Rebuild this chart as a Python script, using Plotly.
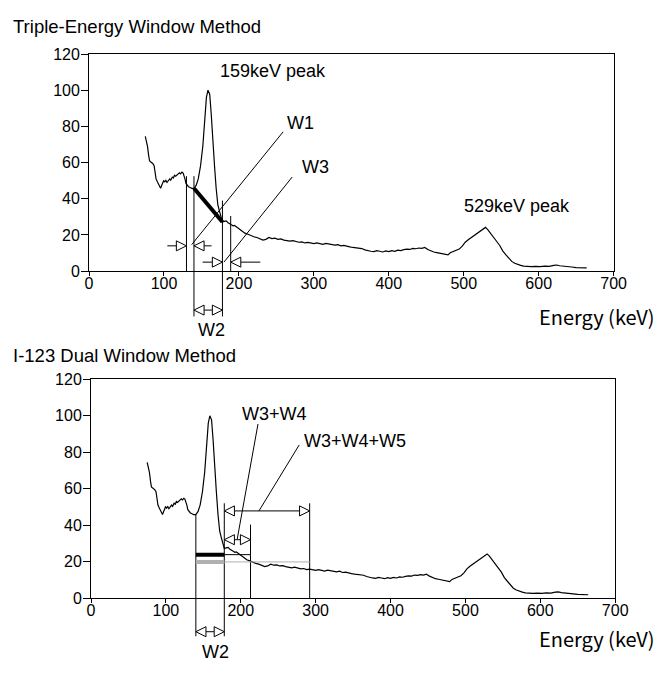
import numpy as np
import plotly.graph_objects as go

# ---------------- data ----------------
energy_kev = [75, 76.5, 78, 79.5, 80.7, 82, 83.8, 85, 86.8, 88, 89.4, 91, 92.4, 94, 95.5, 97, 98,
              99.5, 101, 102.5, 104, 106, 107.6, 109, 111, 112.5, 114, 115.5, 117, 119, 120.6,
              122, 124, 125.5, 127, 128, 129.3, 131, 132.7, 135, 137, 140, 143, 145.7, 148.8,
              151.8, 154.4, 156.6, 158.7, 161, 163, 164.8, 167.4, 169.6, 171.8, 174, 176, 178,
              180.5, 183, 185.5, 187.8, 190, 192, 194, 196.5, 198.5,
              200, 204, 208, 212, 216, 220, 224, 228, 232, 236, 240, 244, 248, 252, 256, 260,
              264, 268, 272, 276, 280, 284, 288, 292, 296, 300, 304, 308, 312, 316, 320, 324,
              328, 332, 336, 340, 344, 348, 352, 356, 360, 364, 368, 372, 376, 380, 384, 388,
              392, 396, 400, 404, 408, 412, 416, 420, 424, 428, 432, 436, 440, 444, 448, 452,
              456, 460, 464, 468, 472, 476, 479, 482, 486, 490, 494, 498, 502, 506, 510, 514,
              518, 522, 526, 529, 532, 536, 540, 544, 548, 552, 556, 560, 564, 568, 572, 576,
              580, 584, 590, 596, 602, 608, 614, 620, 624, 628, 632, 638, 644, 650, 656, 664]
counts = [74.5, 72, 69, 64, 61, 60.5, 60, 59.5, 58.3, 55, 51, 49.5, 48, 46.5, 45.8, 47.5, 48.5,
          50, 49.4, 50.2, 49, 50.5, 51, 50.3, 52, 51.5, 53, 52.5, 53, 53.8, 54.4,
          53.8, 54.7, 54.2, 52.6, 51, 48.5, 47.5, 46.7, 46.2, 45.8, 45.8, 47.5, 51, 58.3,
          69, 83.5, 96, 100, 97.8, 87, 72.7, 58.3, 45.8, 36.8, 33.2, 30, 27.2,
          27.5, 27.8, 26.8, 26, 25.6, 25.1, 25.3, 24.6, 24.0,
          23.5, 22.2, 21.0, 20.4, 19.6, 19.0, 18.6, 18.0, 17.2, 17.6, 18.6, 18.0, 18.2, 17.6, 17.8, 17.2,
          16.8, 16.6, 16.9, 16.4, 16.0, 16.2, 15.6, 15.9, 15.5, 15.2, 15.6, 15.0, 14.8, 15.3, 15.1, 14.6,
          14.4, 14.7, 14.0, 14.2, 13.6, 13.4, 13.1, 13.0, 12.8, 12.5, 11.8, 11.2, 11.0, 10.8, 11.3, 11.0,
          10.6, 11.2, 10.8, 11.3, 11.0, 11.6, 11.4, 11.9, 12.2, 12.0, 12.6, 12.4, 12.8, 12.6, 13.1, 12.0,
          11.2, 10.6, 10.3, 10.0, 9.8, 9.2, 9.0, 10.2, 10.8, 11.2, 12.2, 13.8, 16.0, 17.4, 18.6, 20.0,
          21.4, 22.4, 23.4, 24.2, 23.0, 21.0, 18.8, 16.4, 14.2, 11.2, 9.2, 7.0, 5.4, 4.4, 3.6, 3.2,
          2.8, 2.6, 2.5, 2.7, 2.5, 2.8, 2.7, 3.2, 3.4, 3.0, 2.9, 2.6, 2.3, 2.0, 1.9, 1.8]

x_ticks = [0, 100, 200, 300, 400, 500, 600, 700]
y_ticks = [0, 20, 40, 60, 80, 100, 120]

# Triple-energy window: W1 lower, W2 main, W3 upper (keV edges)
tew_edges = [130, 140, 178, 189]
# Dual window (I-123): W2 main, W3+W4 edge, W3+W4+W5 edge
dew_edges = [140, 178, 213, 292]
dew_levels = [23.8, 19.8]  # scatter level estimates drawn over W2

titles = ["Triple-Energy Window Method", "I-123 Dual Window Method"]
x_title = "Energy (keV)"

# ---------------- figure ----------------
W, H = 662, 673
YMAX = 120
FONT = "Liberation Sans, Arial, sans-serif"


def s(e):
    return float(np.interp(e, energy_kev, counts))


fig = go.Figure()
for n in (1, 2):
    fig.add_trace(go.Scatter(x=energy_kev, y=counts, mode="lines",
                             line=dict(color="black", width=1.2),
                             xaxis="x" if n == 1 else "x2",
                             yaxis="y" if n == 1 else "y2",
                             hoverinfo="skip", showlegend=False))

shapes = []
AL = 13.5      # arrow-head length in keV
AH = 0.023     # arrow-head half height in axis-domain units


def refs(n):
    return ("x", "y domain") if n == 1 else ("x2", "y2 domain")


def seg(x0, y0, x1, y1, n, width=1, color="black"):
    xr, yr = refs(n)
    shapes.append(dict(type="line", xref=xr, yref=yr, x0=x0, x1=x1,
                       y0=y0 / YMAX, y1=y1 / YMAX,
                       line=dict(color=color, width=width)))


def tri(xt, y, d, n):
    xr, yr = refs(n)
    yd = y / YMAX
    xb = xt - d * AL
    shapes.append(dict(type="path", xref=xr, yref=yr,
                       path=f"M {xt},{yd} L {xb},{yd + AH} L {xb},{yd - AH} Z",
                       fillcolor="white", line=dict(color="black", width=1)))


def arrow_in(xt, y, d, tail, n):
    seg(xt - d * (AL + tail), y, xt - d * AL, y, n)
    tri(xt, y, d, n)


def double_arrow(a, b, y, n):
    seg(a + AL, y, b - AL, y, n)
    tri(a, y, -1, n)
    tri(b, y, 1, n)


# ---- top panel: triple-energy window ----
e0, e1, e2, e3 = tew_edges
seg(e0, 0, e0, 52.5, 1)
seg(e1, -25, e1, 52.5, 1)
seg(e2, -25, e2, 39, 1)
seg(e3, 0, e3, 30.5, 1)
seg(e1, s(e1), e2, s(e2), 1, width=4)
arrow_in(e0, 14, 1, 12, 1)
arrow_in(e1, 14, -1, 10, 1)
arrow_in(e2, 5, 1, 13, 1)
arrow_in(e3, 5, -1, 26, 1)
double_arrow(e1, e2, -21.5, 1)
seg(e1 - 3, 14.7, 259, 77, 1)
seg(e2 + 2, 5, 271, 52, 1)

# ---- bottom panel: dual window ----
d0, d1, d2, d3 = dew_edges
seg(d0, -21, d0, s(d0), 2)
seg(d1, -21, d1, 52, 2)
seg(d2, 0, d2, 40.3, 2)
seg(d3, 0, d3, 52, 2)
seg(d1, dew_levels[1], d3, dew_levels[1], 2, width=1, color="#b0b0b0")
seg(d0, dew_levels[1], d1, dew_levels[1], 2, width=4, color="#b0b0b0")
seg(d1, dew_levels[0], d2, dew_levels[0], 2, width=1)
seg(d0, dew_levels[0], d1, dew_levels[0], 2, width=4)
double_arrow(d1, d2, 32, 2)
double_arrow(d1, d3, 47.8, 2)
double_arrow(d0, d1, -18.5, 2)
seg(195.2, 32.2, 223, 95.5, 2)
seg(224.3, 47.8, 278, 84, 2)

annotations = []


def text(t, x, y, n, xanchor="left", size=18):
    xr, yr = refs(n)
    annotations.append(dict(text=t, x=x, y=y / YMAX, xref=xr, yref=yr,
                            xanchor=xanchor, yanchor="middle", showarrow=False,
                            font=dict(family=FONT, size=size, color="black")))


text("159keV peak", 172, 110.4, 1)
text("529keV peak", 497, 36, 1)
text("W1", 261, 82, 1)
text("W3", 281, 57.6, 1)
text("W2", 163.5, -32.3, 1, xanchor="center")
text("W3+W4", 199, 101, 2)
text("W3+W4+W5", 282, 86, 2)
text("W2", 165.8, -29.8, 2, xanchor="center")

for t, yp in zip(titles, [19, 357]):
    annotations.append(dict(text=t, x=7 / W, y=1 - yp / H, xref="paper", yref="paper",
                            xanchor="left", yanchor="middle", showarrow=False,
                            font=dict(family=FONT, size=18.5, color="black")))
for yp in (317, 647):
    annotations.append(dict(text=x_title, x=547 / W, y=1 - yp / H, xref="paper", yref="paper",
                            xanchor="left", yanchor="middle", showarrow=False,
                            font=dict(family="Noto Sans CJK JP, Noto Sans, sans-serif",
                                      size=20, color="black")))

axis_common = dict(showline=True, linecolor="black", linewidth=1, mirror=True,
                   showgrid=False, zeroline=False, ticks="outside",
                   tickcolor="black", tickwidth=1,
                   tickfont=dict(family=FONT, size=16, color="black"))

fig.update_layout(
    width=W, height=H, margin=dict(l=0, r=0, t=0, b=0),
    paper_bgcolor="white", plot_bgcolor="white", showlegend=False,
    xaxis=dict(domain=[87.3 / W, 625.7 / W], range=[0, 700], tickvals=x_ticks,
               anchor="y", ticklen=4, ticklabelstandoff=-6, **axis_common),
    yaxis=dict(domain=[1 - 270 / H, 1 - 47.2 / H], range=[0, YMAX], tickvals=y_ticks,
               anchor="x", ticklen=7, ticklabelstandoff=-2, **axis_common),
    xaxis2=dict(domain=[89.3 / W, 627.3 / W], range=[0, 700], tickvals=x_ticks,
                anchor="y2", ticklen=4, ticklabelstandoff=-6, **axis_common),
    yaxis2=dict(domain=[1 - 605.3 / H, 1 - 381 / H], range=[0, YMAX], tickvals=y_ticks,
                anchor="x2", ticklen=7, ticklabelstandoff=-2, **axis_common),
    shapes=shapes, annotations=annotations,
)

fig.write_html("out.html", config={"displayModeBar": False},
               post_script="document.body.style.margin='0';document.body.style.overflow='hidden';")
